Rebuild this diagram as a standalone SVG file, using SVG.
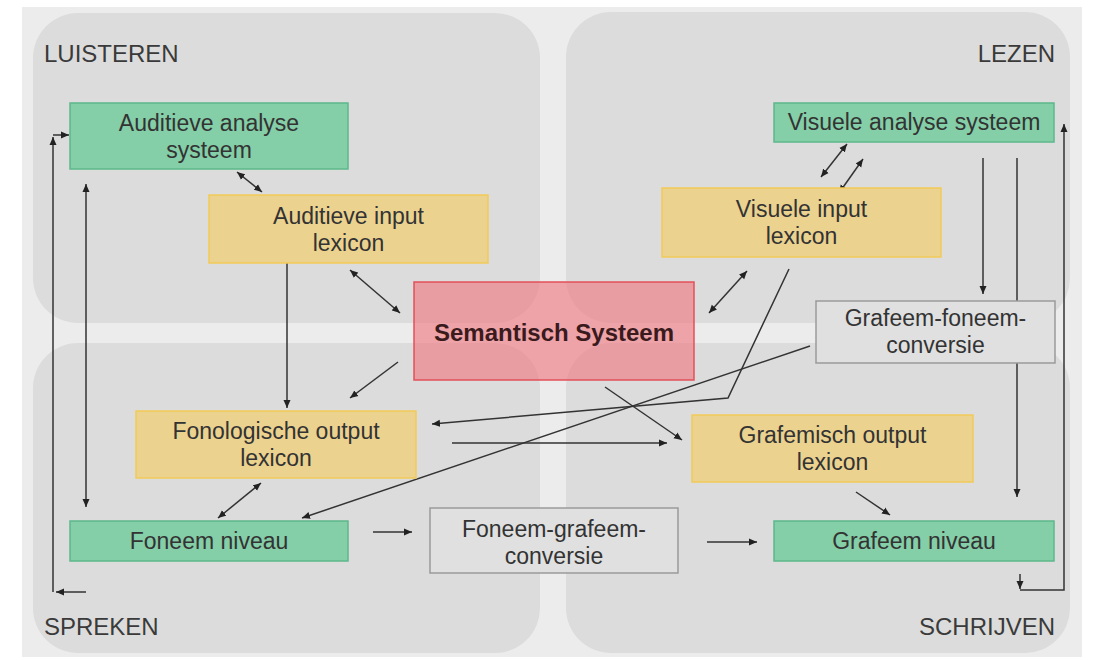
<svg xmlns="http://www.w3.org/2000/svg" width="1094" height="660" viewBox="0 0 1094 660">
<style>
.quad{fill:#dcdcdc}
.lbl{font-family:"Liberation Sans",Arial,sans-serif;font-size:24px;fill:#3a3a3a}
.t{font-family:"Liberation Sans",Arial,sans-serif;font-size:23px;fill:#333;text-anchor:middle}
.tb{font-family:"Liberation Sans",Arial,sans-serif;font-size:24px;font-weight:bold;fill:#3a1a1c;text-anchor:middle}
.green{fill:#84cea8;stroke:#5cb88a;stroke-width:1.5}
.yellow{fill:#ebd28f;stroke:#f2ca58;stroke-width:1.5}
.red{fill:#f0737b;fill-opacity:0.6;stroke:#e2505a;stroke-width:1.5}
.gray{fill:#e0e0e0;stroke:#9a9a9a;stroke-width:1.5}
.c{fill:none;stroke:#333;stroke-width:1.5}
.e{marker-end:url(#ah)}
.d{marker-start:url(#ah);marker-end:url(#ah)}
</style>
<defs>
<marker id="ah" markerUnits="userSpaceOnUse" markerWidth="9" markerHeight="8" refX="8" refY="4" orient="auto-start-reverse">
<path d="M0,0.5 L8,4 L0,7.5 z" fill="#222"/>
</marker>
</defs>
<rect x="0" y="0" width="1094" height="660" fill="#ffffff"/>
<rect x="22" y="7" width="1060" height="650" fill="#ececec"/>
<g id="quadrants">
<rect class="quad" x="33" y="13" width="507" height="310" rx="45"/>
<rect class="quad" x="566" y="12" width="504" height="311" rx="45"/>
<rect class="quad" x="33" y="343" width="507" height="310" rx="45"/>
<rect class="quad" x="566" y="343" width="504" height="310" rx="45"/>
</g>
<g id="labels">
<text class="lbl" x="44" y="62">LUISTEREN</text>
<text class="lbl" x="1055" y="62" text-anchor="end">LEZEN</text>
<text class="lbl" x="44" y="635">SPREKEN</text>
<text class="lbl" x="1055" y="635" text-anchor="end">SCHRIJVEN</text>
</g>
<g id="connectors">
<path class="c e" d="M86,592 H56"/>
<path class="c e" d="M53,592 V137"/>
<path class="c e" d="M53,135 H69"/>
<path class="c d" d="M86,184 V507"/>
<path class="c d" d="M237,172 L262,192"/>
<path class="c e" d="M287,263 V408"/>
<path class="c d" d="M350,270 L400,313"/>
<path class="c e" d="M398,362 L350,398"/>
<path class="c d" d="M821,177 L847,144"/>
<path class="c d" d="M839,193 L863,159"/>
<path class="c d" d="M747,271 L709,313"/>
<path class="c e" d="M789,269 L728,398 L432,424"/>
<path class="c e" d="M810,346 L302,518"/>
<path class="c e" d="M605,387 L682,440"/>
<path class="c e" d="M452,443 H667"/>
<path class="c d" d="M261,483 L218,518"/>
<path class="c e" d="M373,532 H412"/>
<path class="c e" d="M707,542 H757"/>
<path class="c e" d="M856,492 L890,515"/>
<path class="c e" d="M983,158 V294"/>
<path class="c e" d="M1017,158 V497"/>
<path class="c e" d="M1020,574 V589"/>
<path class="c e" d="M1020,590 H1064 V124"/>
</g>
<g id="aud_analyse">
<rect class="green" x="70" y="103" width="278" height="66"/>
<text class="t" x="209" y="131">Auditieve analyse</text>
<text class="t" x="209" y="158">systeem</text>
</g>
<g id="aud_input">
<rect class="yellow" x="209" y="195" width="279" height="68"/>
<text class="t" x="348.5" y="224">Auditieve input</text>
<text class="t" x="348.5" y="251">lexicon</text>
</g>
<g id="vis_analyse">
<rect class="green" x="774" y="103" width="280" height="39"/>
<text class="t" x="914" y="130">Visuele analyse systeem</text>
</g>
<g id="vis_input">
<rect class="yellow" x="662" y="188" width="279" height="69"/>
<text class="t" x="801.5" y="217">Visuele input</text>
<text class="t" x="801.5" y="244">lexicon</text>
</g>
<g id="semantisch">
<rect class="red" x="414" y="282" width="280" height="98"/>
<text class="tb" x="554" y="341">Semantisch Systeem</text>
</g>
<g id="grafeem_foneem">
<rect class="gray" x="816" y="301" width="239" height="62"/>
<text class="t" x="935.5" y="326">Grafeem-foneem-</text>
<text class="t" x="935.5" y="353">conversie</text>
</g>
<g id="fono_output">
<rect class="yellow" x="136" y="411" width="280" height="67"/>
<text class="t" x="276" y="439">Fonologische output</text>
<text class="t" x="276" y="466">lexicon</text>
</g>
<g id="grafemisch_output">
<rect class="yellow" x="692" y="415" width="281" height="67"/>
<text class="t" x="832.5" y="443">Grafemisch output</text>
<text class="t" x="832.5" y="470">lexicon</text>
</g>
<g id="foneem_niveau">
<rect class="green" x="70" y="521" width="278" height="40"/>
<text class="t" x="209" y="549">Foneem niveau</text>
</g>
<g id="foneem_grafeem">
<rect class="gray" x="430" y="508" width="248" height="65"/>
<text class="t" x="554" y="537">Foneem-grafeem-</text>
<text class="t" x="554" y="564">conversie</text>
</g>
<g id="grafeem_niveau">
<rect class="green" x="774" y="521" width="280" height="40"/>
<text class="t" x="914" y="549">Grafeem niveau</text>
</g>
</svg>
